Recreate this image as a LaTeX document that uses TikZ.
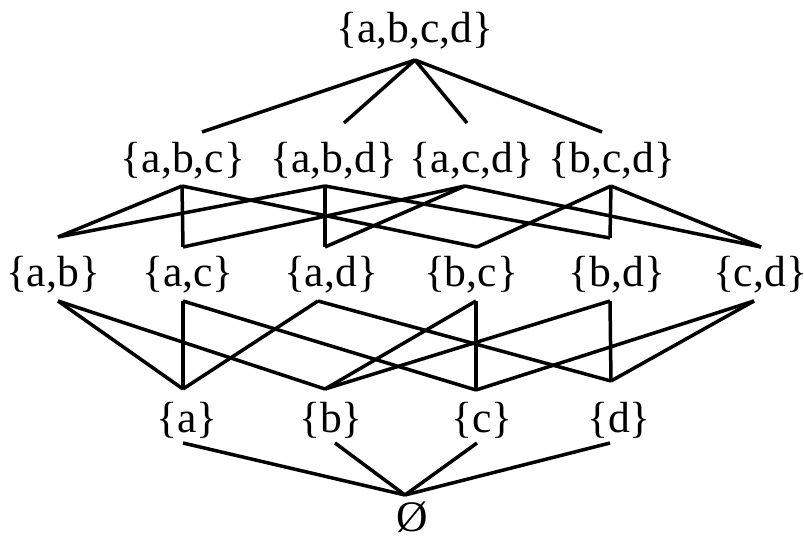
\documentclass[tikz,border=0pt]{standalone}
\usepackage{fontspec}
\setmainfont{Liberation Serif}
\begin{document}
\begin{tikzpicture}[x=0.5pt,y=-0.5pt,
  setnode/.style={inner sep=0pt, font=\fontsize{21.8}{25}\selectfont},
  link/.style={line width=1.75pt}]
\useasboundingbox (0,0) rectangle (804,541);
% the subsets
\node[setnode] (abcd) at (415,31) {\{a,b,c,d\}};
\node[setnode] (abc) at (183,161) {\{a,b,c\}};
\node[setnode] (abd) at (334,161) {\{a,b,d\}};
\node[setnode] (acd) at (472,161) {\{a,c,d\}};
\node[setnode] (bcd) at (612,161) {\{b,c,d\}};
\node[setnode] (ab) at (53,275) {\{a,b\}};
\node[setnode] (ac) at (188,275) {\{a,c\}};
\node[setnode] (ad) at (331,275) {\{a,d\}};
\node[setnode] (bc) at (471,275) {\{b,c\}};
\node[setnode] (bd) at (617,275) {\{b,d\}};
\node[setnode] (cd) at (760,275) {\{c,d\}};
\node[setnode] (a) at (187,420) {\{a\}};
\node[setnode] (b) at (331,420) {\{b\}};
\node[setnode] (c) at (482,420) {\{c\}};
\node[setnode] (d) at (619,420) {\{d\}};
\node[setnode] (e) at (412,517) {Ø};
% where the lines meet each set
\coordinate (abcd-b) at (415,60);
\coordinate (abc-t) at (202,132);
\coordinate (abd-t) at (344,123);
\coordinate (acd-t) at (467,123);
\coordinate (bcd-t) at (602,132);
\coordinate (abc-b) at (182,186);
\coordinate (abd-b) at (325,186);
\coordinate (acd-b) at (465,186);
\coordinate (bcd-b) at (611,186);
\coordinate (ab-t) at (58,237);
\coordinate (ac-t) at (183,247);
\coordinate (ad-t) at (325,247);
\coordinate (bc-t) at (477,247);
\coordinate (bd-t) at (610,238);
\coordinate (cd-t) at (761,247);
\coordinate (ab-b) at (58,301);
\coordinate (ac-b) at (183,301);
\coordinate (ad-b) at (318,301);
\coordinate (bc-b) at (476,301);
\coordinate (bd-b) at (610,301);
\coordinate (cd-b) at (754,301);
\coordinate (a-t) at (183,389);
\coordinate (b-t) at (325,389);
\coordinate (c-t) at (476,390);
\coordinate (d-t) at (611,381);
\coordinate (a-b) at (183,443);
\coordinate (b-b) at (335,443);
\coordinate (c-b) at (477,443);
\coordinate (d-b) at (610,443);
\coordinate (e-t) at (405,495);
% top
\draw[link] (abcd-b) -- (abc-t);
\draw[link] (abcd-b) -- (abd-t);
\draw[link] (abcd-b) -- (acd-t);
\draw[link] (abcd-b) -- (bcd-t);
% three to two
\draw[link] (abc-b) -- (ab-t);
\draw[link] (abc-b) -- (ac-t);
\draw[link] (abc-b) -- (bc-t);
\draw[link] (abd-b) -- (ab-t);
\draw[link] (abd-b) -- (ad-t);
\draw[link] (abd-b) -- (bd-t);
\draw[link] (acd-b) -- (ac-t);
\draw[link] (acd-b) -- (ad-t);
\draw[link] (acd-b) -- (cd-t);
\draw[link] (bcd-b) -- (bc-t);
\draw[link] (bcd-b) -- (bd-t);
\draw[link] (bcd-b) -- (cd-t);
% two to one
\draw[link] (ab-b) -- (a-t);
\draw[link] (ab-b) -- (b-t);
\draw[link] (ac-b) -- (a-t);
\draw[link] (ac-b) -- (c-t);
\draw[link] (ad-b) -- (a-t);
\draw[link] (ad-b) -- (d-t);
\draw[link] (bc-b) -- (b-t);
\draw[link] (bc-b) -- (c-t);
\draw[link] (bd-b) -- (b-t);
\draw[link] (bd-b) -- (d-t);
\draw[link] (cd-b) -- (c-t);
\draw[link] (cd-b) -- (d-t);
% bottom
\draw[link] (a-b) -- (e-t);
\draw[link] (b-b) -- (e-t);
\draw[link] (c-b) -- (e-t);
\draw[link] (d-b) -- (e-t);
\end{tikzpicture}
\end{document}
